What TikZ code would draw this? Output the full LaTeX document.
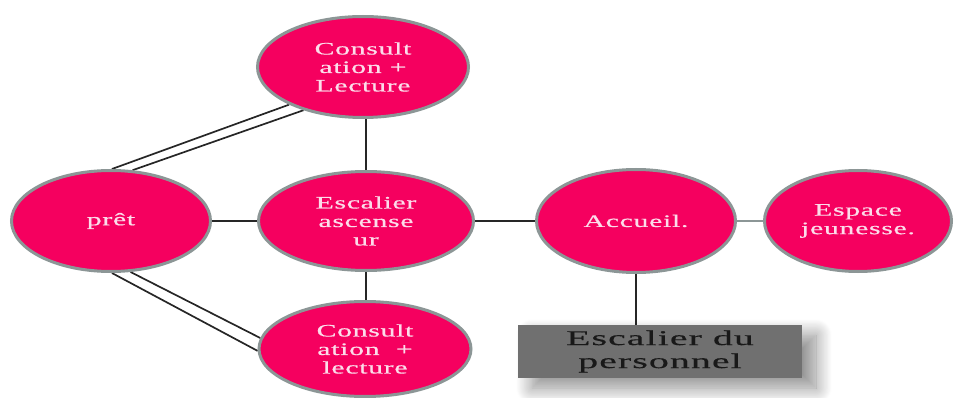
\documentclass[tikz,border=0pt]{standalone}
\usepackage{fontspec}
\newfontfamily\bubblefont[FakeStretch=1.7,LetterSpace=4,FakeBold=0.6]{Liberation Serif}
\newfontfamily\panelfont[FakeStretch=1.9,LetterSpace=5,FakeBold=0.4]{Liberation Serif}
\usetikzlibrary{shapes.geometric,backgrounds,shadows.blur}
\definecolor{bubblepink}{RGB}{245,0,95}
\definecolor{rimgrey}{RGB}{140,150,150}
\definecolor{panelgrey}{RGB}{112,112,112}
\definecolor{textpink}{RGB}{252,220,234}

\begin{document}
\begin{tikzpicture}[x=1pt,y=-1pt,
  bubble/.style={ellipse,draw=rimgrey,line width=3pt,fill=bubblepink,inner sep=0pt,
    align=center,text=textpink,font=\bubblefont\fontsize{17.5}{18.5}\selectfont},
  panel/.style={rectangle,fill=panelgrey,minimum width=284pt,minimum height=53pt,inner sep=0pt,
    align=center,text=black!90,font=\panelfont\fontsize{21}{23}\selectfont,
    blur shadow={shadow xshift=14pt,shadow yshift=-10pt,shadow opacity=45,
      shadow blur radius=16pt,shadow blur steps=20}},
  link/.style={line width=1.7pt,draw=black!85}]
  \useasboundingbox (0,0) rectangle (956,398);
  \node[bubble,minimum width=211pt,minimum height=101pt] (cons1) at (363,67) {Consult\\ation +\\Lecture};
  \node[bubble,minimum width=199pt,minimum height=101pt] (pret) at (111,221) {prêt};
  \node[bubble,minimum width=215pt,minimum height=99pt] (esc) at (366,221) {Escalier\\ascense\\ur};
  \node[bubble,minimum width=199pt,minimum height=103pt] (acc) at (636,221) {Accueil.};
  \node[bubble,minimum width=187pt,minimum height=101pt] (esp) at (858,221) {Espace\\jeunesse.};
  \node[bubble,minimum width=212pt,minimum height=95pt] (cons2) at (365,349) {Consult\\ation~~+\\lecture};
  \node[panel] (stair) at (660,351.5) {Escalier du\\personnel};
  \begin{scope}[on background layer]
    \draw[link] (pret.east) -- (esc.west);
    \draw[link] (esc.east) -- (acc.west);
    \draw[link,draw=rimgrey] (acc.east) -- (esp.west);
    \draw[link] (esc.north |- cons1.south) -- (esc.north);
    \draw[link] (esc.south) -- (esc.south |- cons2.north);
    \draw[link] (acc.south) -- (acc.south |- stair.north);
    \draw[link] (pret.89) -- (cons1.207);
    \draw[link] (pret.67) -- (cons1.216);
    \draw[link] (pret.271) -- (cons2.181);
    \draw[link] (pret.291) -- (cons2.174);
  \end{scope}
\end{tikzpicture}
\end{document}
